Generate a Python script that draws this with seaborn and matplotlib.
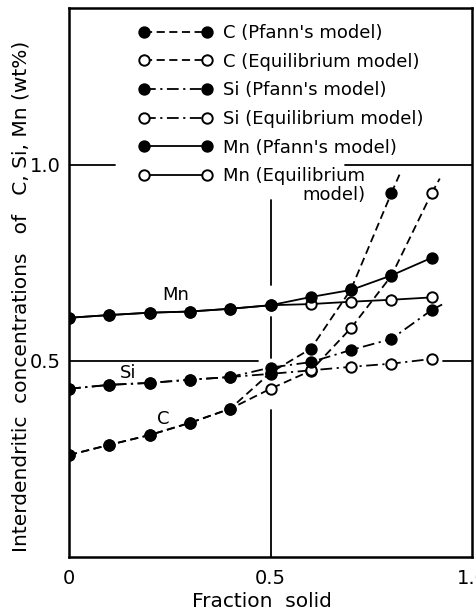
import matplotlib
matplotlib.use("Agg")
import matplotlib.pyplot as plt
import seaborn as sns
from matplotlib.lines import Line2D
from matplotlib.ticker import MultipleLocator, FixedLocator

# ---------------- data ----------------
fraction_solid = [0.0, 0.1, 0.2, 0.3, 0.4, 0.5, 0.6, 0.7, 0.8, 0.9]

c_pfann = [0.260, 0.286, 0.311, 0.342, 0.378, 0.470, 0.531, 0.683, 0.928]
c_equil = [0.260, 0.286, 0.311, 0.342, 0.378, 0.429, 0.475, 0.584, 0.717, 0.928]
si_pfann = [0.429, 0.439, 0.444, 0.452, 0.459, 0.483, 0.497, 0.528, 0.556, 0.630]
si_equil = [0.429, 0.439, 0.444, 0.452, 0.459, 0.467, 0.476, 0.485, 0.493, 0.505]
mn_pfann = [0.610, 0.617, 0.623, 0.626, 0.633, 0.642, 0.663, 0.681, 0.718, 0.763]
mn_equil = [0.610, 0.617, 0.623, 0.626, 0.633, 0.642, 0.645, 0.651, 0.656, 0.662]

# curve continuations beyond the last computed point (no markers)
c_pfann_tail_x = [0.8, 0.82]
c_pfann_tail_y = [0.928, 0.975]
c_equil_tail_x = [0.9, 0.92]
c_equil_tail_y = [0.928, 0.965]
si_pfann_tail_x = [0.9, 0.928]
si_pfann_tail_y = [0.630, 0.645]

legend_labels = ["C (Pfann's model)", "C (Equilibrium model)",
                 "Si (Pfann's model)", "Si (Equilibrium model)",
                 "Mn (Pfann's model)", "Mn (Equilibrium"]

# ---------------- style ----------------
sns.set_theme(style="white")
plt.rcParams['font.family'] = ['DejaVu Sans']
plt.rcParams['font.size'] = 12
plt.rcParams['text.color'] = 'black'
plt.rcParams['axes.labelcolor'] = 'black'
plt.rcParams['xtick.color'] = 'black'
plt.rcParams['ytick.color'] = 'black'

fig = plt.figure(figsize=(4.76, 6.16), dpi=100)
ax = fig.add_axes([69/476, 1 - 557/616, 403/476, 549/616])

LW = 1.3
MS = 7.5
DASH = (0, (4.5, 2.5))
DASHDOT = (0, (6.5, 2.5, 1.2, 2.5))
FS = 13

def draw(x, y, ls, filled, z):
    sns.lineplot(x=x[:len(y)], y=y, ax=ax, color="black", linestyle=ls, linewidth=LW,
                 marker="o", markersize=MS,
                 markerfacecolor="black" if filled else "white",
                 markeredgecolor="black", markeredgewidth=1.4,
                 sort=False, legend=False, zorder=z)

def tail(x, y, ls):
    sns.lineplot(x=x, y=y, ax=ax, color="black", linestyle=ls, linewidth=LW,
                 sort=False, legend=False, zorder=2)

tail(c_pfann_tail_x, c_pfann_tail_y, DASH)
tail(c_equil_tail_x, c_equil_tail_y, DASH)
tail(si_pfann_tail_x, si_pfann_tail_y, DASHDOT)

draw(fraction_solid, c_equil, DASH, False, 3)
draw(fraction_solid, si_equil, DASHDOT, False, 3)
draw(fraction_solid, mn_equil, "-", False, 3)
draw(fraction_solid, c_pfann, DASH, True, 4)
draw(fraction_solid, si_pfann, DASHDOT, True, 4)
draw(fraction_solid, mn_pfann, "-", True, 4)

# partial reference lines (as drawn in the original figure)
glw = 1.3
ax.axhline(1.0, xmin=0.0, xmax=0.114, color="black", lw=glw, zorder=1)
ax.axhline(1.0, xmin=0.685, xmax=1.0, color="black", lw=glw, zorder=1)
ax.axhline(0.5, xmin=0.0, xmax=0.469, color="black", lw=glw, zorder=1)
ax.axhline(0.5, xmin=0.928, xmax=1.0, color="black", lw=glw, zorder=1)
ax.axvline(0.5, ymin=0.495, ymax=0.650, color="black", lw=glw, zorder=1)
ax.axvline(0.5, ymin=0.3625, ymax=0.437, color="black", lw=glw, zorder=1)
ax.axvline(0.5, ymin=0.0, ymax=0.268, color="black", lw=glw, zorder=1)

ax.set_xlim(0, 1.0)
ax.set_ylim(0, 1.4)

ax.xaxis.set_major_locator(FixedLocator([0, 0.5, 1.0]))
ax.set_xticklabels(["0", "0.5", "1.0"])
ax.xaxis.set_minor_locator(MultipleLocator(0.1))
ax.yaxis.set_major_locator(FixedLocator([0.5, 1.0]))
ax.set_yticklabels(["0.5", "1.0"])
ax.yaxis.set_minor_locator(MultipleLocator(0.1))
ax.tick_params(axis="x", which="major", direction="in", length=0, pad=9,
               labelsize=14, colors="black")
ax.tick_params(axis="y", which="major", direction="in", length=0, pad=6,
               labelsize=14, colors="black")
ax.tick_params(axis="both", which="minor", direction="in", length=4, width=1.2,
               colors="black")

for s in ax.spines.values():
    s.set_linewidth(1.8)
    s.set_color("black")

ax.set_xlabel("Fraction  solid", fontsize=14.5, color="black")
ax.xaxis.set_label_coords(0.479, -0.064)
ax.set_ylabel("Interdendritic  concentrations   of   C, Si, Mn (wt%)", fontsize=14.5,
              color="black", va="center")
ax.yaxis.set_label_coords(-0.120, 0.474)

# curve labels
ax.text(0.264, 0.668, "Mn", fontsize=FS, ha="center", va="center")
ax.text(0.147, 0.469, "Si", fontsize=FS, ha="center", va="center")
ax.text(0.234, 0.352, "C", fontsize=FS, ha="center", va="center")

# legend
styles = [(DASH, True), (DASH, False), (DASHDOT, True), (DASHDOT, False),
          ("-", True), ("-", False)]
handles = [Line2D([0], [0], color="black", linestyle=ls, linewidth=LW, marker="o",
                  markersize=MS, markerfacecolor="black" if f else "white",
                  markeredgecolor="black", markeredgewidth=1.4)
           for ls, f in styles]
leg = ax.legend(handles, legend_labels, loc="upper left",
                bbox_to_anchor=(0.172, 0.971), frameon=False, numpoints=2,
                handlelength=4.1, handletextpad=0.6, labelspacing=0.59,
                borderaxespad=0, borderpad=0, fontsize=FS)
ax.text(0.735, 0.659, "model)", fontsize=FS, ha="right", va="center",
        transform=ax.transAxes)

fig.savefig("out.png", dpi=100)
